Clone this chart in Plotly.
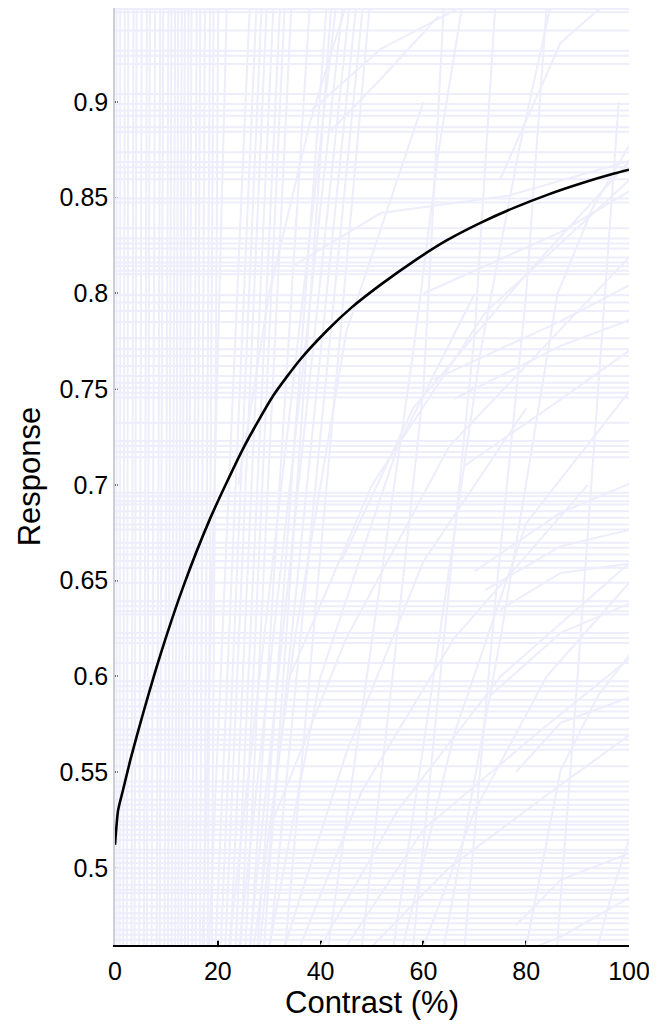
import plotly.graph_objects as go

# ---- data ----
contrast_mean = [0, 0.6, 1.5, 3, 5.5, 8.8, 13.3, 18.5, 25, 30.8, 36, 41.3, 46, 51.7,
                 58.1, 64.6, 71.2, 77.6, 84.1, 90.6, 97.1, 100]
response_mean = [0.512, 0.530, 0.540, 0.5565, 0.581, 0.611, 0.647, 0.6824, 0.7194, 0.7467,
                 0.7654, 0.7808, 0.7926, 0.8046, 0.8168, 0.8278, 0.837, 0.8447, 0.8515,
                 0.8574, 0.8626, 0.8646]

flat_levels = [0.9486, 0.9469, 0.9373, 0.9268, 0.9242, 0.9199, 0.9042, 0.8990, 0.8955,
               0.8928, 0.8868, 0.8845, 0.8737, 0.8686, 0.8659, 0.8632, 0.8597, 0.8496,
               0.8475, 0.8340, 0.8287, 0.8261, 0.8235, 0.8188, 0.8162, 0.8144, 0.8118,
               0.8101, 0.7991, 0.7953, 0.7909, 0.7851, 0.7766, 0.7709, 0.7673, 0.7621,
               0.7569, 0.7534, 0.7508, 0.7482, 0.7456, 0.7325, 0.7229, 0.7203, 0.7172,
               0.7145, 0.6959, 0.6941, 0.6915, 0.6898, 0.6863, 0.6829, 0.6793, 0.6767,
               0.6698, 0.6672, 0.6637, 0.6602, 0.6567, 0.6489, 0.6392, 0.6366, 0.6340,
               0.6323, 0.6227, 0.6201, 0.6175, 0.6070, 0.5974, 0.5948, 0.5922, 0.5878,
               0.5843, 0.5817, 0.5782, 0.5722, 0.5695, 0.5669, 0.5643, 0.5617, 0.5530,
               0.5451, 0.5425, 0.5399, 0.5356, 0.5329, 0.5303, 0.5268, 0.5242, 0.5225,
               0.5199, 0.5173, 0.5146, 0.5094, 0.5077, 0.5051, 0.5025, 0.4998, 0.4972,
               0.4946, 0.4911, 0.4885, 0.4868, 0.4833, 0.4798, 0.4763, 0.4737, 0.4711,
               0.4676, 0.4650, 0.4624]

# steep curves: contrast where they leave the bottom and reach the top of the plot
steep_x_bottom = [0.3, 0.9, 1.6, 2.3, 3.2, 3.8, 4.7, 5.6, 6.2, 7.1, 8.1, 8.7, 9.6, 10.3,
                  11.0, 11.7, 12.3, 12.9, 13.6, 14.2, 15.0, 15.7, 16.5, 17.3, 18.0, 18.8,
                  17.0, 18.2, 19.5, 20.5, 21.4, 22.4, 23.4, 24.4, 25.3,
                  26.3, 27.6, 28.9, 22.0, 24.0, 26.0, 28.0, 30.0, 33.0]
steep_x_top = [0.3, 1.0, 1.9, 2.6, 3.6, 4.2, 5.2, 6.2, 6.8, 7.8, 8.8, 9.4, 10.4, 11.0,
               11.7, 12.3, 13.0, 13.6, 14.3, 14.9, 15.9, 16.6, 17.5, 18.5, 19.2, 20.1,
               21.8, 26.3, 27.6, 28.6, 29.6, 30.9, 32.2, 33.1, 34.4,
               38.0, 41.3, 42.2, 43.2, 44.5, 45.8, 47.1, 48.4, 49.7]

# gentler curves, each as a few (contrast, response) points
curve_x = [
    [35, 51.7, 76.4, 100.4],
    [38, 51.7, 67.8],
    [42, 51.7, 63],
    [41.5, 50, 58.1, 63, 67.6],
    [54.2, 62, 71.2, 78.6, 84.8],
    [64, 75, 86.1, 93, 100.4],
    [75, 86.7, 95.2],
    [60, 86.7, 100.4],
    [62, 86.7, 100.4],
    [66, 86.7, 100.4],
    [68, 86.7, 100.4],
    [70, 86.7, 100.4],
    [72, 86.7, 100.4],
    [75, 86.7, 100.4],
    [73, 86.7, 100.4],
    [80, 86.7, 94, 100.4],
    [78, 86.7, 100.4],
    [93.9, 97, 100.4],
    [78, 86.7, 100.4],
    [82, 86.7, 100.4],
    [30, 40, 55, 70],
    [33, 45, 60, 80],
    [36, 48, 66, 92],
    [40, 55, 75, 100.4],
    [45, 60, 82, 100.4],
    [50, 65, 85, 100.4],
    [30, 45, 65, 100.4],
    [34, 50, 72, 100.4],
    [44, 58, 80, 100.4],
    [56, 66, 80, 100.4],
    [60, 70, 84, 100.4],
    [48, 54, 60, 64],
    [58, 64, 70, 74],
    [68, 74, 80, 84],
    [86, 90, 94, 98],
    [24, 30, 38, 45],
    [27, 35, 45, 60],
]
curve_y = [
    [0.815, 0.842, 0.851, 0.8695],
    [0.895, 0.9277, 0.9503],
    [0.885, 0.912, 0.945],
    [0.459, 0.62, 0.771, 0.875, 0.951],
    [0.459, 0.60, 0.771, 0.875, 0.951],
    [0.459, 0.62, 0.80, 0.845, 0.879],
    [0.86, 0.931, 0.951],
    [0.80, 0.832, 0.854],
    [0.755, 0.7856, 0.8048],
    [0.745, 0.7726, 0.7865],
    [0.71, 0.7447, 0.7709],
    [0.655, 0.6855, 0.701],
    [0.645, 0.668, 0.6767],
    [0.635, 0.654, 0.659],
    [0.59, 0.6227, 0.6384],
    [0.459, 0.551, 0.59, 0.6124],
    [0.55, 0.5758, 0.5894],
    [0.459, 0.49, 0.518],
    [0.47, 0.4937, 0.508],
    [0.459, 0.464, 0.485],
    [0.459, 0.60, 0.72, 0.80],
    [0.459, 0.56, 0.66, 0.74],
    [0.459, 0.54, 0.62, 0.70],
    [0.459, 0.53, 0.60, 0.66],
    [0.459, 0.52, 0.57, 0.61],
    [0.459, 0.50, 0.54, 0.57],
    [0.52, 0.62, 0.72, 0.82],
    [0.60, 0.70, 0.79, 0.86],
    [0.66, 0.74, 0.81, 0.87],
    [0.459, 0.57, 0.68, 0.75],
    [0.459, 0.53, 0.60, 0.65],
    [0.459, 0.60, 0.75, 0.951],
    [0.459, 0.62, 0.78, 0.951],
    [0.459, 0.64, 0.80, 0.951],
    [0.459, 0.60, 0.75, 0.90],
    [0.70, 0.80, 0.89, 0.951],
    [0.459, 0.62, 0.78, 0.90],
]

x_ticks = [0, 20, 40, 60, 80, 100]
y_ticks = [0.5, 0.55, 0.6, 0.65, 0.7, 0.75, 0.8, 0.85, 0.9]
y_tick_text = ["0.5", "0.55", "0.6", "0.65", "0.7", "0.75", "0.8", "0.85", "0.9"]

X_RANGE = [0, 100]
Y_RANGE = [0.4597, 0.9491]

# ---- build the faint sample curves ----
bx, by = [], []
for lv in flat_levels:
    bx += [X_RANGE[0], X_RANGE[1], None]
    by += [lv, lv, None]
for xb, xt in zip(steep_x_bottom, steep_x_top):
    bx += [xb, xt, None]
    by += [0.455, 0.955, None]
for cx, cy in zip(curve_x, curve_y):
    bx += cx + [None]
    by += cy + [None]

LAV = "rgb(237,237,251)"

fig = go.Figure()
fig.add_trace(go.Scatter(x=bx, y=by, mode="lines", line=dict(color=LAV, width=2),
                         hoverinfo="skip", showlegend=False))
fig.add_trace(go.Scatter(x=contrast_mean, y=response_mean, mode="lines",
                         line=dict(color="black", width=2.6, shape="spline", smoothing=0.6),
                         showlegend=False))

FONT = "Liberation Sans, Arial, Helvetica, sans-serif"
fig.update_layout(
    width=649, height=1023,
    margin=dict(l=107, r=28, t=0, b=86, pad=0),
    paper_bgcolor="white", plot_bgcolor="white",
    font=dict(family=FONT, color="black", size=25),
    xaxis=dict(range=X_RANGE, tickvals=x_ticks, ticks="inside", ticklen=5,
               tickwidth=1.5, tickcolor="black", showline=True, linecolor="black",
               linewidth=2, showgrid=False, zeroline=False, layer="below traces",
               automargin=False, ticklabelstandoff=3,
               title=dict(text="Contrast (%)", font=dict(size=31), standoff=3),
               tickfont=dict(size=25)),
    yaxis=dict(range=Y_RANGE, tickvals=y_ticks, ticktext=y_tick_text, ticks="inside",
               ticklen=3, tickwidth=1.5, tickcolor="black", showline=True,
               linecolor="rgb(205,205,215)", linewidth=1.5, showgrid=False,
               zeroline=False, layer="below traces", automargin=False,
               title=dict(text="Response", font=dict(size=31), standoff=10),
               tickfont=dict(size=25)),
)

fig.write_html("out.html")
